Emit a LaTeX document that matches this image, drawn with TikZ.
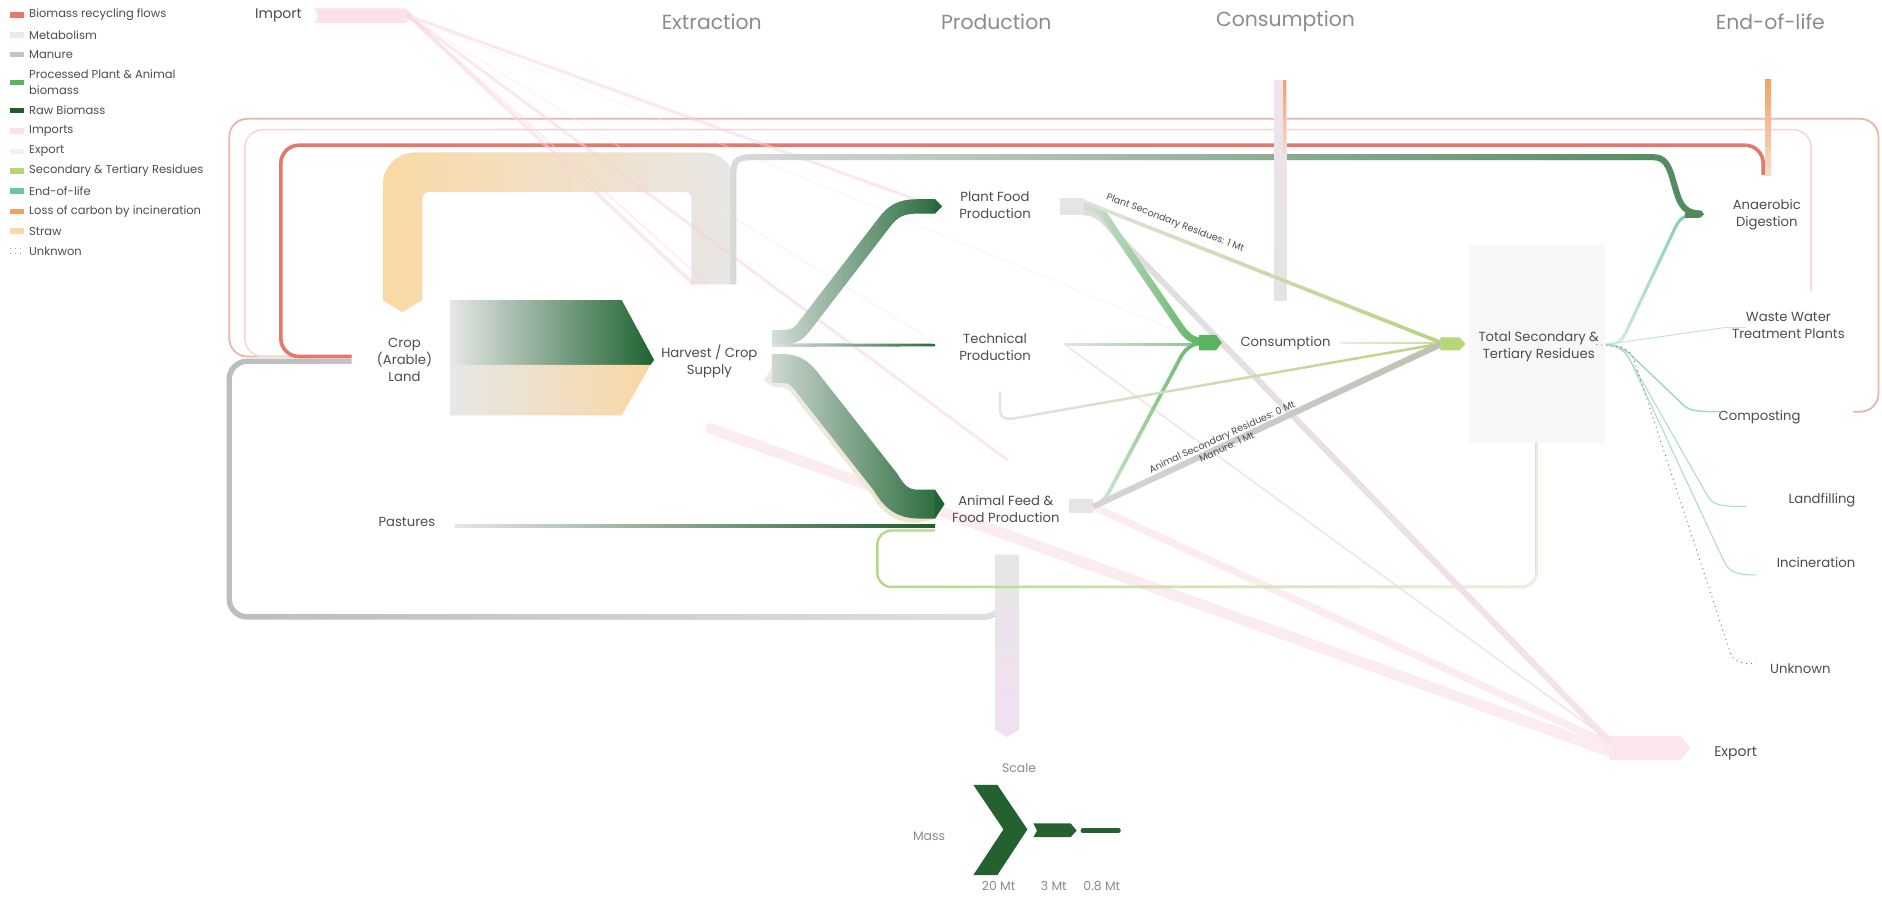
\documentclass[tikz,border=0pt]{standalone}
\usepackage{fontspec}
\setmainfont{Poppins}
\usetikzlibrary{fadings}

% flow colours
\definecolor{recyc}{HTML}{E4786B}
\definecolor{recycL}{HTML}{EAB5AC}
\definecolor{recycP}{HTML}{F3D6D1}
\definecolor{metab}{HTML}{EEE6F2}
\definecolor{manure}{HTML}{C4C4C4}
\definecolor{procG}{HTML}{5AB35E}
\definecolor{rawG}{HTML}{1F5E2C}
\definecolor{impC}{HTML}{FBE1E8}
\definecolor{impL}{HTML}{F8D2DB}
\definecolor{expC}{HTML}{FCE6EC}
\definecolor{secG}{HTML}{B6D67A}
\definecolor{eolC}{HTML}{66C6A6}
\definecolor{lossC}{HTML}{EFA268}
\definecolor{strawC}{HTML}{FAD9A5}
\definecolor{grayL}{HTML}{E8E7E5}
\definecolor{adG}{HTML}{4E8A5C}
\definecolor{txt}{HTML}{4D4D4D}
\definecolor{hdrC}{HTML}{8C8C8C}
\definecolor{sclC}{HTML}{8A8A8A}
% shades used by the gradients
\definecolor{manL}{HTML}{BDBDBD}
\definecolor{manR}{HTML}{E0E0E0}
\definecolor{adL}{HTML}{DADADA}
\definecolor{teExp}{HTML}{F2E2E6}
\definecolor{blkL}{HTML}{E7E7E7}
\definecolor{blkG}{HTML}{1E6330}
\definecolor{blkS}{HTML}{F9D7A4}
\definecolor{afEdgeL}{HTML}{ECECEA}
\definecolor{afEdgeR}{HTML}{F3E2C4}
\definecolor{afL}{HTML}{DCE2DD}
\definecolor{afR}{HTML}{1F6533}
\definecolor{pfL}{HTML}{DDE3DE}
\definecolor{pfR}{HTML}{23693A}
\definecolor{teL}{HTML}{E2E2E2}
\definecolor{teR}{HTML}{2E6B3B}
\definecolor{paL}{HTML}{E6E6E6}
\definecolor{mbBot}{HTML}{F1E0F1}
\definecolor{coTop}{HTML}{F1E3F0}
\definecolor{coBot}{HTML}{E3E3E3}
\definecolor{lossBot}{HTML}{F6DCCB}
\definecolor{resBox}{HTML}{F7F7F7}
\definecolor{loopL}{HTML}{B5D886}
\definecolor{loopR}{HTML}{ECEFE9}
\definecolor{pfOut}{HTML}{E3E6E3}
\definecolor{afOut}{HTML}{E5E5E5}
\definecolor{pfExL}{HTML}{DDDDDD}
\definecolor{pfExR}{HTML}{F8E4EA}
\definecolor{pcL}{HTML}{D6E3D6}
\definecolor{tcL}{HTML}{E4E4E4}
\definecolor{tcR}{HTML}{8CC48F}
\definecolor{acL}{HTML}{D9E8D9}
\definecolor{psL}{HTML}{E0E2DC}
\definecolor{csL}{HTML}{E6EEDD}
\definecolor{csR}{HTML}{C3DD9A}
\definecolor{msL}{HTML}{D6D6D6}
\definecolor{msR}{HTML}{BDC2B4}
\definecolor{eoL}{HTML}{E3F1EC}
\definecolor{wwC}{HTML}{C5E6DA}
\definecolor{cpC}{HTML}{9FD8C3}
\definecolor{lfC}{HTML}{AEDCCB}
\definecolor{unC}{HTML}{777777}
\definecolor{sclG}{HTML}{23612E}

% transparent on the left, opaque on the right
\tikzfading[name=toR, left color=transparent!100, right color=transparent!0]

% stroke blending from colour #2 (left) to colour #3 (right)
\newcommand\gline[4]{%
  \draw[#1,draw=#2] #4;
  \draw[#1,draw=#3,path fading=toR] #4;}

\begin{document}
\begin{tikzpicture}[x=0.6pt,y=-0.6pt,
  lw/.style={line width=#1*0.6pt},
  lbl/.style={font=\fontsize{6.6pt}{8.4pt}\selectfont, text=txt, align=center, inner sep=0pt},
  leg/.style={font=\fontsize{5.75pt}{7.8pt}\selectfont, text=txt, anchor=west, align=left, inner sep=0pt},
  hdr/.style={font=\fontsize{10.2pt}{12pt}\selectfont, text=hdrC, inner sep=0pt},
  rlab/.style={font=\fontsize{4.8pt}{5.6pt}\selectfont, text=txt, align=center, inner sep=0pt},
  sml/.style={font=\fontsize{6.2pt}{7pt}\selectfont, text=sclC, inner sep=0pt},
  sw/.style={minimum width=7.2pt, minimum height=2.7pt, inner sep=0pt, outer sep=0pt}]

\useasboundingbox (0,0) rectangle (1568,747);
\fill[white] (0,0) rectangle (1568,747);

% ---------------- legend ----------------
\node[sw, fill=recyc] (sw1) at (14,12.5) {};
\node[leg] (lg1) at (24,12.5) {Biomass recycling flows};
\node[sw, fill=metab] (sw2) at (14,29) {};
\node[leg] (lg2) at (24,29) {Metabolism};
\node[sw, fill=manure] (sw3) at (14,45.5) {};
\node[leg] (lg3) at (24,45.5) {Manure};
\node[sw, fill=procG] (sw4) at (14,68.5) {};
\node[leg] (lg4) at (24,68.5) {Processed Plant \& Animal\\biomass};
\node[sw, fill=rawG] (sw5) at (14,92) {};
\node[leg] (lg5) at (24,92) {Raw Biomass};
\node[sw, fill=impC] (sw6) at (14,109) {};
\node[leg] (lg6) at (24,109) {Imports};
\node[sw, fill=expC!70!white] (sw7) at (14,126) {};
\node[leg] (lg7) at (24,126) {Export};
\node[sw, fill=secG] (sw8) at (14,142.5) {};
\node[leg] (lg8) at (24,142.5) {Secondary \& Tertiary Residues};
\node[sw, fill=eolC] (sw9) at (14,159) {};
\node[leg] (lg9) at (24,159) {End-of-life};
\node[sw, fill=lossC] (sw10) at (14,176) {};
\node[leg] (lg10) at (24,176) {Loss of carbon by incineration};
\node[sw, fill=strawC] (sw11) at (14,192.5) {};
\node[leg] (lg11) at (24,192.5) {Straw};
\node[sw] (sw12) at (14,209) {};
\draw[gray!70, dotted, lw=1] (sw12.north west) -- (sw12.north east);
\draw[gray!70, dotted, lw=1] (sw12.south west) -- (sw12.south east);
\node[leg] (lg12) at (24,209) {Unknwon};

% ---------------- column headers ----------------
\node[lbl, font=\fontsize{7pt}{8pt}\selectfont] (hImp) at (232,13) {Import};
\node[hdr] (hExt) at (593,18) {Extraction};
\node[hdr] (hPro) at (830,18) {Production};
\node[hdr] (hCon) at (1071,18) {Consumption};
\node[hdr] (hEol) at (1475,18) {End-of-life};

% ---------------- anchor points of the flows ----------------
\coordinate (cl-in) at (293,297);
\coordinate (cl-man) at (293,301);
\coordinate (hv-pf) at (643,281);
\coordinate (hv-af) at (643,307);
\coordinate (pf-in) at (779,172);
\coordinate (af-in) at (779,420);
\coordinate (pf-out) at (903,172);
\coordinate (af-out) at (911,422);
\coordinate (te-out) at (887,287);
\coordinate (co-in) at (1003,285);
\coordinate (re-in) at (1202,286);
\coordinate (re-out) at (1338,287);
\coordinate (ad-in) at (1418,178);
\coordinate (ex-in) at (1341,622);
\coordinate (imp-o) at (340,13);
\coordinate (straw-r) at (611,237);

% ---------------- recycling loops back to the crop land ----------------
\draw[recycL, lw=1.5, rounded corners=9pt] (cl-in) -| (191,99) -| (1565,343) -- (1544,343);
\draw[recycP, lw=1.2, rounded corners=9pt] (cl-in) -| (204,108) -| (1509,243);
\draw[recyc, lw=3, rounded corners=9pt] (cl-in) -| (234,121) -| (1469,146);
\gline{lw=4.5, rounded corners=9pt}{manL}{manR}{(cl-man) -| (191,514) -| (835,495)}

% ---------------- straw returned to the land ----------------
\shade[left color=strawC, right color=grayL]
  (335,260) -- (319,250) [rounded corners=16pt] -- (319,127) -- (613,127) [sharp corners]
  -- (613,237) -- (576,237) [rounded corners=3pt] -- (576,160) -- (352,160) [sharp corners]
  -- (352,250) -- cycle;

% ---------------- imports ----------------
\fill[impC] (262,7) -- (338,7) -- (344,13) -- (338,19) -- (262,19) -- (265,13) -- cycle;
\begin{scope}[opacity=0.5]
\draw[impL, lw=2.5] (imp-o) -- (pf-in);
\draw[impL, lw=3] (imp-o) -- (578,237);
\draw[impL, lw=1] (imp-o) -- (590,237);
\draw[impL, lw=2.5, line cap=round] (imp-o) -- (839,383);
\draw[impL!60!white, lw=0.8] (imp-o) -- (779,285);
\draw[impL!50!white, lw=0.8] (imp-o) -- (co-in);
\end{scope}

% ---------------- straw to anaerobic digestion ----------------
\gline{lw=5}{adL}{adG}{(straw-r) -- (611,145) .. controls (611,134) and (614,131) .. (626,131) -- (1378,131) .. controls (1390,131) and (1392,145) .. (1396,158) .. controls (1400,172) and (1404,178) .. (ad-in)}

% ---------------- exports ----------------
\begin{scope}[opacity=0.8]
\draw[expC, lw=9, line cap=round] (592,357) -- (1341,626);
\draw[expC, lw=6] (af-out) -- (1341,620);
\end{scope}
\draw[teExp, lw=1.2] (te-out) -- (1341,617);
\fill[expC] (1341,613) -- (1400,613) -- (1408,623) -- (1400,633) -- (1341,633) -- cycle;

% ---------------- crop land to harvest ----------------
\shade[left color=blkL, right color=blkG] (375,250) -- (518,250) -- (545,300) -- (542,304) -- (375,304) -- cycle;
\shade[left color=blkL, right color=blkS] (375,304) -- (542,304) -- (518,346) -- (375,346) -- cycle;

% ---------------- harvest to production ----------------
\begin{scope}[shift={(-2,3.5)}]
\gline{lw=24}{afEdgeL}{afEdgeR}{(hv-af) -- (650,307) .. controls (660,307) and (665,309) .. (672,318) -- (738,402) .. controls (745,414) and (752,420) .. (765,420) -- (af-in)}
\end{scope}
\gline{lw=24}{afL}{afR}{(hv-af) -- (650,307) .. controls (660,307) and (665,309) .. (672,318) -- (738,402) .. controls (745,414) and (752,420) .. (765,420) -- (af-in)}
\fill[afR] (779,408) -- (787,420) -- (779,432) -- cycle;
\gline{lw=12}{pfL}{pfR}{(hv-pf) -- (650,281) .. controls (660,281) and (665,279) .. (670,272) -- (737,185) .. controls (744,176) and (750,172) .. (765,172) -- (pf-in)}
\fill[pfR] (779,166) -- (785,172) -- (779,178) -- cycle;
\shade[left color=teL, right color=teR] (643,286) -- (779,286.4) -- (779,288.6) -- (643,289) -- cycle;
\shade[left color=paL, right color=rawG] (379,437) rectangle (779,439.3);

% ---------------- metabolism columns ----------------
\shade[top color=paL, bottom color=mbBot] (829,462) -- (849,462) -- (849,608) -- (839,614) -- (829,608) -- cycle;
\shade[top color=coTop, bottom color=coBot] (1062,67) rectangle (1072,250);
\shade[top color=lossC, bottom color=lossBot] (1069,67) rectangle (1071.5,128);
\shade[top color=lossC, bottom color=lossBot] (1470.5,66) rectangle (1475.5,146);

% ---------------- residues box ----------------
\fill[resBox] (1224,204) rectangle (1337,369);
\gline{lw=2, rounded corners=7pt}{loopL}{loopR}{(1280,369) -- (1280,489) -- (731,489) -- (731,442) -- (779,442)}

% ---------------- production outputs ----------------
\fill[pfOut] (883,165) rectangle (903,179);
\fill[afOut] (891,416) rectangle (911,427);
\gline{lw=5}{pfExL}{pfExR}{(903,177) .. controls (913,177) and (918,182) .. (925,190) -- (1341,618)}
\gline{lw=6}{pcL}{procG}{(pf-out) .. controls (915,172) and (920,178) .. (927,190) -- (983,272) .. controls (989,281) and (994,284) .. (co-in)}
\shade[left color=tcL, right color=tcR] (887,286) rectangle (1000,287.5);
\gline{lw=3}{acL}{procG}{(af-out) .. controls (918,419) and (922,414) .. (926,406) -- (984,297) .. controls (989,289) and (993,287) .. (co-in)}
\fill[procG] (999,279) -- (1013,279) -- (1018,285.5) -- (1013,292) -- (999,292) -- cycle;

% ---------------- secondary and tertiary residues ----------------
\gline{lw=3}{psL}{secG}{(903,168) -- (re-in)}
\shade[left color=csL, right color=csR] (1117,285) rectangle (1202,286.3);
\gline{lw=2}{tcL}{secG}{(833,326) -- (833,340) .. controls (833,349) and (838,350) .. (848,348) -- (re-in)}
\gline{lw=5}{msL}{msR}{(af-out) -- (re-in)}
\fill[secG] (1200,281) -- (1216,281) -- (1221,286.5) -- (1216,292) -- (1200,292) -- cycle;

% ---------------- end-of-life ----------------
\gline{lw=2.5}{eoL}{eolC}{(re-out) .. controls (1348,287) and (1351,284) .. (1355,276) -- (1396,189) .. controls (1400,181) and (1405,178) .. (ad-in)}
\fill[adG] (1404,175.5) -- (1416,175.5) -- (1420,178.5) -- (1416,181.5) -- (1404,181.5) -- cycle;
\draw[wwC, lw=0.9] (re-out) -- (1436,273) -- (1455,273);
\draw[cpC, lw=1.2] (re-out) .. controls (1348,288) and (1352,290) .. (1358,295) -- (1402,337) .. controls (1407,342) and (1412,343) .. (1433,343);
\draw[lfC, lw=0.9] (re-out) .. controls (1348,288) and (1352,291) .. (1357,298) -- (1422,412) .. controls (1427,421) and (1432,422) .. (1455,422);
\draw[lfC, lw=0.9] (re-out) .. controls (1350,289) and (1355,293) .. (1359,302) -- (1436,467) .. controls (1441,477) and (1446,479) .. (1463,479);
\draw[unC, lw=0.8, dotted] (1330,287) -- (1350,289) .. controls (1356,291) and (1359,294) .. (1362,302) -- (1441,542) .. controls (1444,551) and (1448,553) .. (1463,553);

% ---------------- node labels ----------------
\node[lbl] (crop) at (337,300) {Crop\\(Arable)\\Land};
\node[lbl] (harv) at (591,301) {Harvest / Crop\\Supply};
\node[lbl] (pfood) at (829,171) {Plant Food\\Production};
\node[lbl] (tech) at (829,289) {Technical\\Production};
\node[lbl] (afeed) at (838,424) {Animal Feed \&\\Food Production};
\node[lbl] (past) at (339,435) {Pastures};
\node[lbl] (cons) at (1071,286) {Consumption};
\node[lbl] (resid) at (1282,289) {Total Secondary \&\\Tertiary Residues};
\node[lbl] (ad) at (1472,179) {Anaerobic\\Digestion};
\node[lbl] (wwtp) at (1490,271) {Waste Water\\Treatment Plants};
\node[lbl] (comp) at (1466,348) {Composting};
\node[lbl] (landf) at (1518,417) {Landfilling};
\node[lbl] (incin) at (1513,469) {Incineration};
\node[lbl] (unkn) at (1500,557) {Unknown};
\node[lbl, font=\fontsize{7pt}{8pt}\selectfont] (expo) at (1446,628) {Export};

\node[rlab, rotate=-21] (psr) at (979,186) {Plant Secondary Residues: 1 Mt};
\node[rlab, rotate=24.6] (asr) at (1020,368) {Animal Secondary Residues: 0 Mt\\Manure: 1 Mt};

% ---------------- scale ----------------
\node[sml] (scl) at (849,640) {Scale};
\node[sml] (mass) at (774,697) {Mass};
\fill[sclG] (811,654) -- (831,654) -- (856,691) -- (831,729) -- (811,729) -- (836,691) -- cycle;
\fill[sclG] (861,686) -- (892,686) -- (897,692) -- (892,697.5) -- (861,697.5) -- (864,692) -- cycle;
\coordinate (s3a) at (902,692);
\coordinate (s3b) at (932,692);
\draw[sclG, lw=3.5, line cap=round] (s3a) -- (s3b);
\node[sml] (m20) at (832,738) {20 Mt};
\node[sml] (m3) at (878,738) {3 Mt};
\node[sml] (m08) at (918,738) {0.8 Mt};
\end{tikzpicture}
\end{document}
